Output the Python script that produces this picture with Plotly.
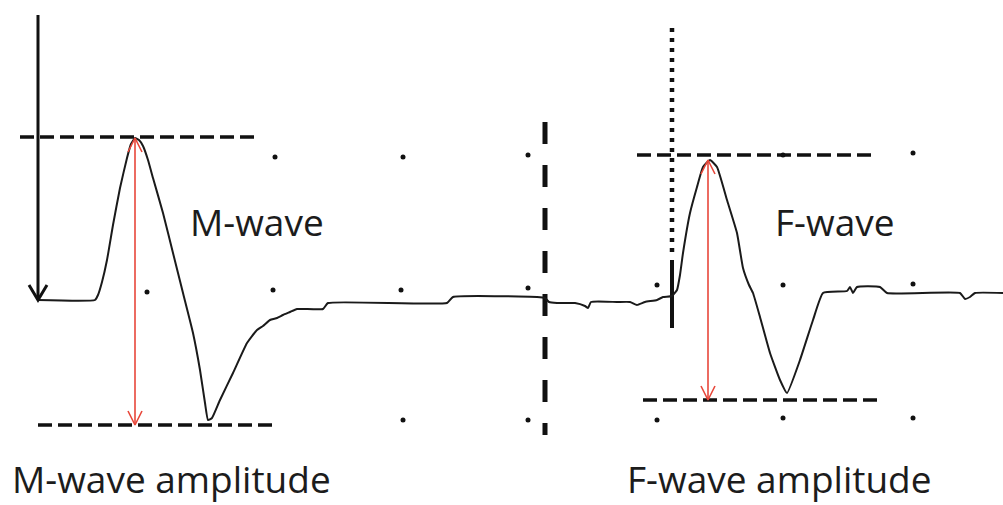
import plotly.graph_objects as go

# ---- data (pixel-like units: time -> x, amplitude -> y, y increases downward) ----
trace_x = [38, 95, 98, 102, 107, 113, 120, 127, 131, 135, 139, 143, 148, 153, 163, 173, 183, 193, 200,
           205, 208, 212, 220, 233, 247, 257, 263, 270, 277, 283, 290, 297, 323, 328, 447, 453, 537,
           545, 549, 557, 575, 585, 588, 591, 617, 630, 637, 645, 657, 663, 672, 677, 680, 683, 690,
           697, 703, 710, 717, 727, 737, 743, 749, 753, 760, 770, 780, 787, 800, 813, 823, 847, 850,
           853, 857, 880, 887, 960, 965, 970, 975, 1003]
trace_y = [300, 300, 295, 282, 260, 225, 188, 158, 144, 138, 140, 146, 160, 178, 213, 253, 293, 333, 370,
           403, 420, 418, 400, 373, 343, 330, 326, 320, 318, 315, 312, 309, 309, 303, 303, 297, 297,
           298, 302, 303, 303, 306, 308, 302, 302, 302, 305, 302, 300, 297, 296, 290, 275, 253, 213,
           187, 167, 160, 167, 200, 233, 268, 285, 293, 317, 353, 380, 393, 360, 320, 293, 291, 287,
           293, 287, 287, 293, 293, 299, 297, 293, 293]

# amplitude reference lines: (x0, x1, y)
ref_x0 = [20, 38, 637, 643]
ref_x1 = [260, 275, 873, 880]
ref_y = [137, 425, 155, 400]

# amplitude arrows: (x, y_top, y_bottom)
amp_x = [135, 708]
amp_top = [138, 160]
amp_bot = [425, 400]

# grid dots
dot_x = [275, 403, 528, 147, 273, 401, 528, 403, 528, 657, 783, 913, 913, 783, 657, 783, 913]
dot_y = [157, 157, 155, 292, 290, 290, 288, 420, 420, 285, 285, 284, 153, 155, 420, 418, 418]

labels = ["M-wave", "F-wave", "M-wave amplitude", "F-wave amplitude"]
label_x = [188, 773, 10, 625]
label_y = [221, 221, 478, 478]

stim_x = 38; stim_top = 15; stim_bot = 300
sep_x = 545; sep_top = 122; sep_bot = 435
lat_x = 672; lat_dot_top = 28; lat_dot_bot = 252; lat_bar_top = 260; lat_bar_bot = 328

RED = "#e8473a"
fig = go.Figure()

# grid dots
fig.add_trace(go.Scatter(x=dot_x, y=dot_y, mode="markers",
                         marker=dict(size=5, color="#111"), hoverinfo="skip"))

# dashed reference lines
for x0, x1, y in zip(ref_x0, ref_x1, ref_y):
    fig.add_trace(go.Scatter(x=[x0, x1], y=[y, y], mode="lines",
                             line=dict(color="#111", width=3.5, dash="14px,6px"), hoverinfo="skip"))

# separator dashed vertical
fig.add_trace(go.Scatter(x=[sep_x, sep_x], y=[sep_top, sep_bot], mode="lines",
                         line=dict(color="#111", width=5, dash="22px,21px"), hoverinfo="skip"))
# latency dotted vertical + bar
fig.add_trace(go.Scatter(x=[lat_x, lat_x], y=[lat_dot_top, lat_dot_bot], mode="lines",
                         line=dict(color="#111", width=4.5, dash="4px,6px"), hoverinfo="skip"))
fig.add_trace(go.Scatter(x=[lat_x, lat_x], y=[lat_bar_top, lat_bar_bot], mode="lines",
                         line=dict(color="#111", width=4), hoverinfo="skip"))

# waveform
fig.add_trace(go.Scatter(x=trace_x, y=trace_y, mode="lines", line_shape="spline",
                         line=dict(color="#1a1a1a", width=2, smoothing=0.4), hoverinfo="skip"))

# stimulus arrow
hw, hl = 9, 15
fig.add_trace(go.Scatter(x=[stim_x, stim_x, None, stim_x - hw, stim_x, stim_x + hw],
                         y=[stim_top, stim_bot, None, stim_bot - hl, stim_bot, stim_bot - hl],
                         mode="lines", line=dict(color="#111", width=3), hoverinfo="skip"))

# red amplitude arrows (open heads at both ends)
ahw, ahl = 7, 14
for x, t, b in zip(amp_x, amp_top, amp_bot):
    fig.add_trace(go.Scatter(
        x=[x, x, None, x - ahw, x, x + ahw, None, x - ahw, x, x + ahw],
        y=[t, b, None, t + ahl, t, t + ahl, None, b - ahl, b, b - ahl],
        mode="lines", line=dict(color=RED, width=1.6), hoverinfo="skip"))

for txt, x, y in zip(labels, label_x, label_y):
    fig.add_annotation(x=x, y=y, text=txt, showarrow=False, xanchor="left", yanchor="middle",
                       font=dict(family="Open Sans", size=37, color="#1c1c1c"))

fig.update_layout(width=1003, height=505, margin=dict(l=0, r=0, t=0, b=0),
                  plot_bgcolor="white", paper_bgcolor="white", showlegend=False,
                  xaxis=dict(range=[0, 1003], visible=False, fixedrange=True),
                  yaxis=dict(range=[505, 0], visible=False, fixedrange=True))
fig.write_html("out.html")
